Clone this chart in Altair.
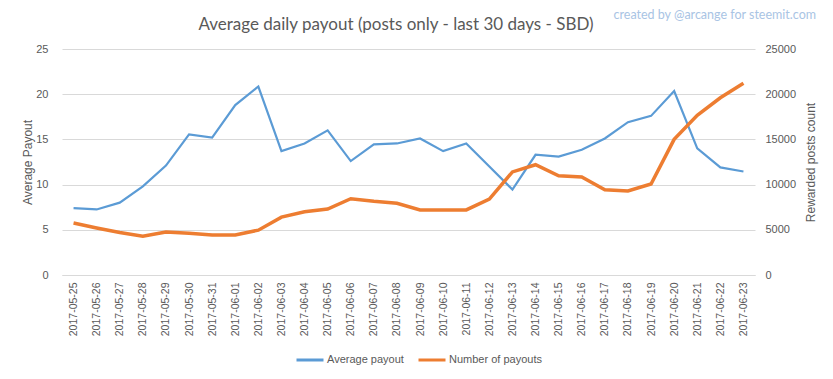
import altair as alt
import pandas as pd

dates = [
    "2017-05-25", "2017-05-26", "2017-05-27", "2017-05-28", "2017-05-29",
    "2017-05-30", "2017-05-31", "2017-06-01", "2017-06-02", "2017-06-03",
    "2017-06-04", "2017-06-05", "2017-06-06", "2017-06-07", "2017-06-08",
    "2017-06-09", "2017-06-10", "2017-06-11", "2017-06-12", "2017-06-13",
    "2017-06-14", "2017-06-15", "2017-06-16", "2017-06-17", "2017-06-18",
    "2017-06-19", "2017-06-20", "2017-06-21", "2017-06-22", "2017-06-23",
]
avg_payout = [
    7.4, 7.25, 8.0, 9.8, 12.1, 15.55, 15.2, 18.8, 20.85, 13.7,
    14.55, 16.0, 12.6, 14.45, 14.55, 15.1, 13.7, 14.55, 12.0, 9.45,
    13.3, 13.1, 13.85, 15.1, 16.9, 17.6, 20.35, 14.0, 11.9, 11.45,
]
payout_count = [
    5750, 5200, 4700, 4280, 4750, 4630, 4420, 4420, 4960, 6400,
    7000, 7300, 8440, 8150, 7930, 7200, 7200, 7200, 8400, 11400,
    12200, 10980, 10850, 9440, 9300, 10070, 15000, 17670, 19600, 21200,
]
series_names = ["Average payout", "Number of payouts"]
series_colors = ["#5b9bd5", "#ed7d31"]
left_ticks = [0, 5, 10, 15, 20, 25]
right_ticks = [0, 5000, 10000, 15000, 20000, 25000]

title_text = "Average daily payout (posts only - last 30 days - SBD)"
credit_text = "created by @arcange for steemit.com"

df = pd.DataFrame({"date": dates, "avg": avg_payout, "count": payout_count})

TXT = "#595959"
GRID = "#d9d9d9"
FONT = "Liberation Sans"

x_enc = alt.X(
    "date:N",
    sort=dates,
    scale=alt.Scale(type="point", padding=0.5),
    axis=alt.Axis(
        title=None, labelAngle=270, labelFontSize=10.5, labelColor=TXT,
        labelFont=FONT, ticks=False, tickSize=0, labelPadding=7,
        domain=True, domainColor=GRID, grid=False,
    ),
)

color_scale = alt.Scale(domain=series_names, range=series_colors)

blue = alt.Chart(df).transform_calculate(series="'Average payout'").mark_line(
    strokeWidth=2.2
).encode(
    x=x_enc,
    y=alt.Y(
        "avg:Q",
        scale=alt.Scale(domain=[0, 25]),
        axis=alt.Axis(
            values=left_ticks, title="Average Payout", titleFontSize=12,
            titleFontWeight="normal", titleColor=TXT, titleFont=FONT,
            labelFontSize=11, labelColor=TXT, labelFont=FONT,
            grid=True, gridColor=GRID, domain=False, ticks=False, tickSize=0,
            labelPadding=14, titlePadding=1,
        ),
    ),
    color=alt.Color(
        "series:N",
        scale=color_scale,
        legend=alt.Legend(
            title=None, orient="none", legendX=233, legendY=296,
            direction="horizontal", symbolType="stroke", symbolSize=729,
            symbolStrokeWidth=3, labelFontSize=11, labelColor=TXT,
            labelFont=FONT, labelOffset=2, columnPadding=8,
        ),
    ),
)

orange = alt.Chart(df).transform_calculate(series="'Number of payouts'").mark_line(
    strokeWidth=3.5
).encode(
    x=x_enc,
    y=alt.Y(
        "count:Q",
        scale=alt.Scale(domain=[0, 25000]),
        axis=alt.Axis(
            orient="right", values=right_ticks, format="d",
            title="Rewarded posts count",
            titleFontSize=12, titleFontWeight="normal", titleColor=TXT,
            titleFont=FONT, titleAngle=270, titleBaseline="top",
            labelFontSize=11, labelColor=TXT, labelFont=FONT, labelAlign="left",
            grid=False, domain=False, ticks=False, tickSize=0,
            labelPadding=10, titlePadding=10,
        ),
    ),
    color=alt.Color("series:N", scale=color_scale),
)

credit = alt.Chart(pd.DataFrame({"t": [credit_text]})).mark_text(
    align="right", baseline="middle", fontSize=12.5, font="Lato",
    color="#a9c4e4",
).encode(text="t:N", x=alt.value(754), y=alt.value(-34))

title = alt.Chart(pd.DataFrame({"t": [title_text]})).mark_text(
    align="center", baseline="middle", fontSize=17, font="Lato",
    color=TXT,
).encode(text="t:N", x=alt.value(334), y=alt.value(-24))

chart = alt.layer(blue, orange, credit, title).resolve_scale(y="independent").properties(
    width=693,
    height=226,
    autosize=alt.AutoSizeParams(type="none"),
    padding={"left": 54, "top": 41, "right": 70, "bottom": 96},
    background="white",
).configure_view(stroke=None)

chart.save("out.html", embed_options={"renderer": "svg", "actions": False})
